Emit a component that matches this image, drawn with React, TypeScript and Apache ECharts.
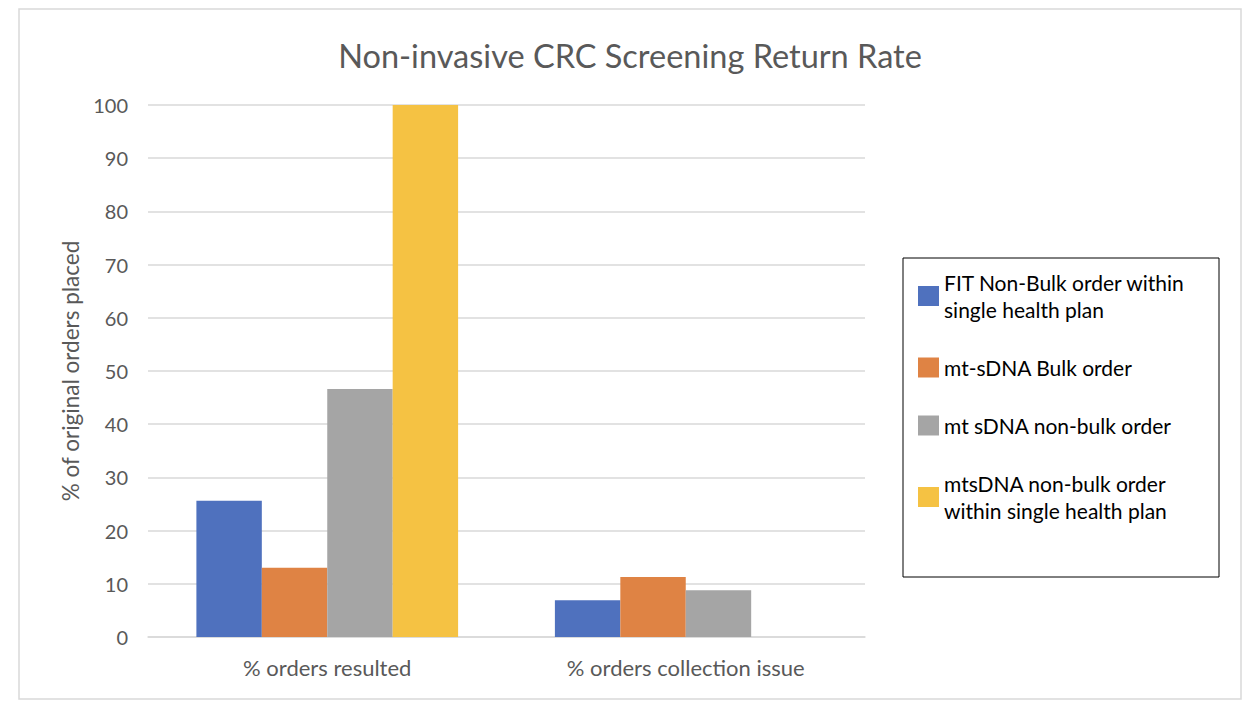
import React, { useEffect, useRef } from "react";
import * as echarts from "echarts";

const categories = ["% orders resulted", "% orders collection issue"];
const seriesNames = [
  "FIT Non-Bulk order within\nsingle health plan",
  "mt-sDNA Bulk order",
  "mt sDNA non-bulk order",
  "mtsDNA non-bulk order\nwithin single health plan",
];
const fitNonBulk = [25.6, 6.9];
const mtBulk = [13.0, 11.3];
const mtNonBulk = [46.6, 8.8];
const mtNonBulkSingle = [100, 0];
const colors = ["#4F71BE", "#DF8344", "#A5A5A5", "#F5C243"];

const FONT = "Lato";

export default function App() {
  const ref = useRef<HTMLDivElement>(null);
  useEffect(() => {
    if (!ref.current) return;
    const chart = echarts.init(ref.current, null, { renderer: "svg" });
    const values = [fitNonBulk, mtBulk, mtNonBulk, mtNonBulkSingle];
    chart.setOption({
      animation: false,
      backgroundColor: "#ffffff",
      textStyle: { fontFamily: FONT },
      title: {
        text: "Non-invasive CRC Screening Return Rate",
        left: "center",
        top: 34,
        textStyle: { fontFamily: FONT, fontSize: 32.5, fontWeight: "normal", color: "#595959" },
      },
      grid: { left: 148, right: 395, top: 105, bottom: 77 },
      xAxis: {
        type: "category",
        data: categories,
        axisTick: { show: false },
        axisLine: { lineStyle: { color: "#d9d9d9", width: 1.5 } },
        axisLabel: { fontFamily: FONT, fontSize: 22, color: "#595959", margin: 19 },
      },
      yAxis: {
        type: "value",
        min: 0,
        max: 100,
        interval: 10,
        name: "% of original orders placed",
        nameLocation: "middle",
        nameGap: 64,
        nameTextStyle: { fontFamily: FONT, fontSize: 22.5, color: "#595959" },
        axisLine: { show: false },
        axisTick: { show: false },
        axisLabel: { fontFamily: FONT, fontSize: 20, color: "#595959", margin: 20 },
        splitLine: { lineStyle: { color: "#d9d9d9", width: 1.5 } },
      },
      legend: {
        orient: "vertical",
        left: 913,
        top: 264,
        itemWidth: 21,
        itemHeight: 20,
        itemGap: 31,
        icon: "rect",
        textStyle: { fontFamily: FONT, fontSize: 21, lineHeight: 27, color: "#000000" },
        data: seriesNames,
      },
      graphic: [
        {
          type: "rect",
          shape: { x: 19, y: 9, width: 1222, height: 690 },
          style: { fill: "none", stroke: "#d9d9d9", lineWidth: 1.5 },
          silent: true,
        },
        {
          type: "rect",
          shape: { x: 903, y: 258, width: 316, height: 319 },
          style: { fill: "none", stroke: "#000000", lineWidth: 1 },
          silent: true,
        },
      ],
      series: seriesNames.map((name, i) => ({
        name,
        type: "bar",
        data: values[i],
        itemStyle: { color: colors[i] },
        barGap: "0%",
        barCategoryGap: "27%",
      })),
    });
    return () => chart.dispose();
  }, []);
  return (
    <div
      ref={ref}
      style={{ position: "fixed", left: 0, top: 0, width: 1260, height: 714 }}
    />
  );
}
